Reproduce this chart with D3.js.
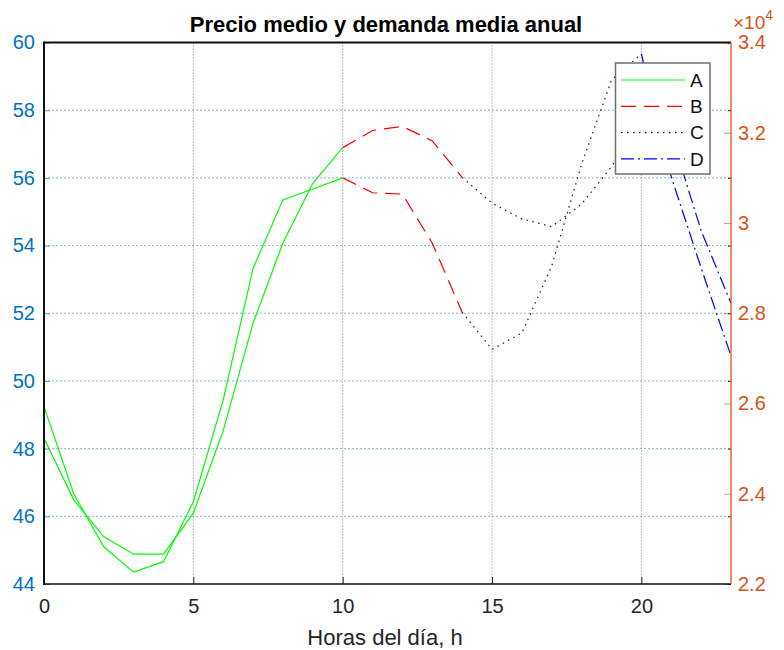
<!DOCTYPE html>
<html>
<head>
<meta charset="utf-8">
<script src="https://cdn.jsdelivr.net/npm/d3@7"></script>
<style>
  body { margin: 0; background: #fff; }
  svg { display: block; font-family: "Liberation Sans", Arial, Helvetica, sans-serif; }
</style>
</head>
<body>
<svg id="chart" width="784" height="650"></svg>
<script>
// Hour of day
const hours = [0, 1, 2, 3, 4, 5, 6, 7, 8, 9, 10, 11, 12, 13, 14, 15, 16, 17, 18, 19, 20, 21, 22, 23];
// Average price (€/MWh), left axis
const price = [49.24, 46.66, 45.10, 44.35, 44.66, 46.43, 49.44, 53.33, 55.35, 55.67, 56.00, 55.56,
               55.52, 54.07, 52.03, 50.93, 51.42, 53.40, 56.41, 58.89, 59.66, 56.03, 53.34, 50.74];
// Average demand (MW), right axis
const demand = [25230, 23860, 23050, 22660, 22660, 23570, 25400, 27780, 29560, 30880, 31670, 32050,
                32140, 31820, 31010, 30440, 30090, 29920, 30420, 31250, 32280, 31960, 29830, 28220];
// Day periods: label and first/last hour of each
const periodLabels = ["A", "B", "C", "D"];
const periodBounds = [0, 10, 14, 20, 23];
// Axis ticks
const priceTicks = [44, 46, 48, 50, 52, 54, 56, 58, 60];
const demandTicks = [22000, 24000, 26000, 28000, 30000, 32000, 34000];
const hourTicks = [0, 5, 10, 15, 20];

const periodStyle = {
  A: { color: "#00ff00", dash: null },
  B: { color: "#ff0000", dash: "15,8" },
  C: { color: "#1a1a1a", dash: "1.5,4.5" },
  D: { color: "#0000ff", dash: "13,4,2,4" }
};

const pL = 44, pR = 731, pT = 42.5, pB = 584;
const blue = "#0072BD", orange = "#D95319";

const svg = d3.select("#chart");
const x = d3.scaleLinear().domain([0, 23]).range([pL, pR]);
const yL = d3.scaleLinear().domain([44, 60]).range([pB, pT]);
const yR = d3.scaleLinear().domain([22000, 34000]).range([pB, pT]);

// Grid
svg.append("g").selectAll("line").data(priceTicks.filter(d => d > 44 && d < 60)).join("line")
  .attr("x1", pL).attr("x2", pR)
  .attr("y1", d => yL(d)).attr("y2", d => yL(d))
  .attr("stroke", "#7ab6e2").attr("stroke-width", 1).attr("stroke-dasharray", "2,2");
svg.append("g").selectAll("line").data(hourTicks.filter(d => d > 0)).join("line")
  .attr("x1", d => x(d)).attr("x2", d => x(d))
  .attr("y1", pT).attr("y2", pB)
  .attr("stroke", "#7a7a7a").attr("stroke-width", 1).attr("stroke-dasharray", "1,2");

// Series, split by period
const rows = hours.map((h, i) => ({ h, p: price[i], d: demand[i] }));
const linePrice = d3.line().x(r => x(r.h)).y(r => yL(r.p));
const lineDemand = d3.line().x(r => x(r.h)).y(r => yR(r.d));
const lines = svg.append("g").attr("fill", "none");
periodLabels.forEach((lab, k) => {
  const seg = rows.filter(r => r.h >= periodBounds[k] && r.h <= periodBounds[k + 1]);
  const st = periodStyle[lab];
  [linePrice, lineDemand].forEach(gen => {
    lines.append("path").attr("d", gen(seg))
      .attr("stroke", st.color).attr("stroke-width", 1.2)
      .attr("stroke-dasharray", st.dash);
  });
});

// Axes
const fs = "20px";
const axL = svg.append("g").attr("transform", `translate(${pL},0)`)
  .call(d3.axisLeft(yL).tickValues(priceTicks).tickSize(-6).tickPadding(9));
axL.select(".domain").remove();
axL.selectAll(".tick line").attr("stroke", "#5a9fd4");
axL.selectAll(".tick text").attr("fill", blue).style("font-size", fs).style("font-family", "inherit");

const axR = svg.append("g").attr("transform", `translate(${pR},0)`)
  .call(d3.axisRight(yR).tickValues(demandTicks).tickSize(-7).tickPadding(7)
    .tickFormat(d => String(+(d / 10000).toFixed(1))));
axR.select(".domain").remove();
axR.selectAll(".tick line").attr("stroke", orange).attr("stroke-opacity", 0.6);
axR.selectAll(".tick text").attr("fill", orange).style("font-size", fs).style("font-family", "inherit");

const axR2 = svg.append("g").attr("transform", `translate(${pR},0)`)
  .call(d3.axisRight(yL).tickValues(priceTicks).tickSize(-3).tickFormat(""));
axR2.select(".domain").remove();
axR2.selectAll(".tick line").attr("stroke", "#222");

const axB = svg.append("g").attr("transform", `translate(0,${pB})`)
  .call(d3.axisBottom(x).tickValues(hourTicks).tickSize(-7).tickPadding(15));
axB.select(".domain").remove();
axB.selectAll(".tick line").attr("stroke", "#222");
axB.selectAll(".tick text").attr("fill", "#262626").style("font-size", fs).style("font-family", "inherit");

// Frame
svg.append("line").attr("x1", pL).attr("x2", pR).attr("y1", pT).attr("y2", pT)
  .attr("stroke", "#111").attr("stroke-width", 2);
svg.append("line").attr("x1", pL).attr("x2", pL).attr("y1", pT - 1).attr("y2", pB + 1)
  .attr("stroke", "#111").attr("stroke-width", 2);
svg.append("line").attr("x1", pL).attr("x2", pR).attr("y1", pB).attr("y2", pB)
  .attr("stroke", "#111").attr("stroke-width", 1.5);
svg.append("line").attr("x1", pR).attr("x2", pR).attr("y1", pT).attr("y2", pB)
  .attr("stroke", orange).attr("stroke-width", 1.3);

// Exponent of the right axis
const ex = svg.append("text").attr("x", 733).attr("y", 29).attr("fill", orange).style("font-size", "19px");
ex.append("tspan").text("×10");
ex.append("tspan").attr("dy", -9).style("font-size", "14px").text("4");

// Title and x label
svg.append("text").attr("x", 386).attr("y", 32).attr("text-anchor", "middle")
  .style("font-size", "22px").style("font-weight", "bold").attr("fill", "#000")
  .text("Precio medio y demanda media anual");
svg.append("text").attr("x", 385).attr("y", 645).attr("text-anchor", "middle")
  .style("font-size", "22px").attr("fill", "#262626")
  .text("Horas del día, h");

// Legend
const lg = svg.append("g");
lg.append("rect").attr("x", 615.5).attr("y", 63).attr("width", 94.5).attr("height", 111)
  .attr("fill", "#fff").attr("stroke", "#6e6e6e").attr("stroke-width", 1.5);
periodLabels.forEach((lab, k) => {
  const yy = 80 + k * 26.3;
  const st = periodStyle[lab];
  lg.append("line").attr("x1", 621).attr("x2", 685).attr("y1", yy).attr("y2", yy)
    .attr("stroke", st.color).attr("stroke-width", 1.2).attr("stroke-dasharray", st.dash);
  lg.append("text").attr("x", 690).attr("y", yy).attr("dy", "0.36em")
    .style("font-size", "19px").attr("fill", "#111").text(lab);
});
</script>
</body>
</html>
